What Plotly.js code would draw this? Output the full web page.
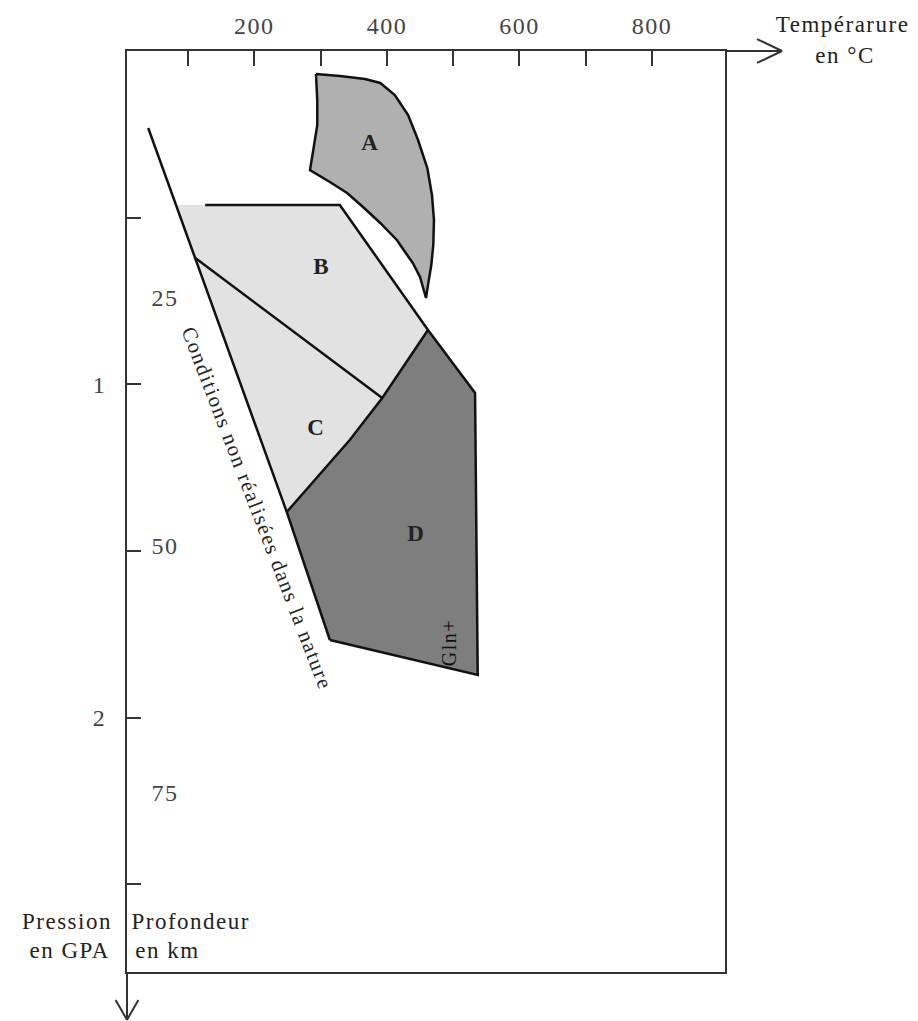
<!DOCTYPE html>
<html>
<head>
<meta charset="utf-8">
<script src="https://cdn.plot.ly/plotly-3.0.1.min.js"></script>
<style>
html,body{margin:0;padding:0;background:#fff}
.main-svg text{letter-spacing:1.5px}
</style>
</head>
<body>
<div id="chart" style="width:918px;height:1021px"></div>
<script>
// ---- axis ticks ----
const tempTicks = [100, 200, 300, 400, 500, 600, 700, 800];
const tempTickLabels = ['', '200', '', '400', '', '600', '', '800'];
const pressTicks = [0.5, 1, 1.5, 2, 2.5];
const pressTickLabels = ['', '1', '', '2', ''];
const depthKm = [25, 50, 75];
const kmPerGPa = 33.7;

// ---- geotherm limit (conditions not realised in nature) ----
const geothermT = [40, 111, 249, 314];
const geothermP = [0.231, 0.621, 1.383, 1.767];

// ---- domain A ----
const domainA_T = [293, 329, 367, 390, 412, 432, 447, 461, 468, 471, 470, 467, 462, 459,
                   450, 439, 415, 390, 364, 340, 314, 284, 289, 295, 295, 293];
const domainA_P = [0.069, 0.075, 0.084, 0.096, 0.132, 0.192, 0.267, 0.351, 0.432, 0.507, 0.582, 0.642, 0.702, 0.741,
                   0.678, 0.636, 0.567, 0.516, 0.468, 0.426, 0.393, 0.357, 0.297, 0.222, 0.147, 0.069];

// ---- domains B + C (same light fill) ----
const domainBC_T = [81, 329, 462, 393, 344, 295, 249, 81];
const domainBC_P = [0.462, 0.462, 0.837, 1.041, 1.167, 1.278, 1.383, 0.462];

// ---- domain D ----
const domainD_T = [462, 533, 537, 314, 249, 295, 344, 393, 462];
const domainD_P = [0.837, 1.026, 1.872, 1.767, 1.383, 1.278, 1.167, 1.041, 0.837];

// ---- boundaries ----
const outerT = [126, 329, 462, 533, 537, 314];
const outerP = [0.462, 0.462, 0.837, 1.026, 1.872, 1.767];
const limitBC_T = [111, 393];
const limitBC_P = [0.621, 1.041];
const limitCD_T = [462, 393, 344, 295, 249];
const limitCD_P = [0.837, 1.041, 1.167, 1.278, 1.383];

// ---- labels ----
const domainNames = ['A', 'B', 'C', 'D'];
const domainLabelT = [375, 302, 294, 445];
const domainLabelP = [0.273, 0.645, 1.128, 1.446];

const FONT = 'Liberation Serif, Times New Roman, serif';
const INK = '#111';

function poly(x, y, fill, lw) {
  return {x: x, y: y, type: 'scatter', mode: 'lines', fill: 'toself', fillcolor: fill,
    line: {color: INK, width: lw}, hoverinfo: 'skip', showlegend: false};
}
function line(x, y) {
  return {x: x, y: y, type: 'scatter', mode: 'lines',
    line: {color: INK, width: 2.5}, hoverinfo: 'skip', showlegend: false};
}

const data = [
  poly(domainBC_T, domainBC_P, '#e2e2e2', 0),
  poly(domainD_T, domainD_P, '#7e7e7e', 0),
  poly(domainA_T, domainA_P, '#b0b0b0', 2.5),
  line(geothermT, geothermP),
  line(outerT, outerP),
  line(limitBC_T, limitBC_P),
  line(limitCD_T, limitCD_P)
];

function txt(x, y, xref, yref, text, size, color, extra) {
  return Object.assign({x: x, y: y, xref: xref, yref: yref, text: text, showarrow: false,
    xanchor: 'center', yanchor: 'middle', font: {family: FONT, size: size, color: color}}, extra || {});
}

const annotations = [];
domainNames.forEach((n, i) => annotations.push(
  txt(domainLabelT[i], domainLabelP[i], 'x', 'y', '<b>' + n + '</b>', 23, '#222')));
annotations.push(txt(494, 1.776, 'x', 'y', 'Gln+', 20, '#111', {textangle: -90}));
annotations.push(txt(204, 1.371, 'x', 'y', 'Conditions non réalisées dans la nature', 21, '#222', {textangle: 69}));
depthKm.forEach(d => annotations.push(txt(0.0635, d / kmPerGPa, 'paper', 'y', String(d), 24, '#444')));
// axis titles
const py = p => (972 - p) / 921;
annotations.push(txt(1.196, py(25), 'paper', 'paper', 'Tempérarure', 23, '#222'));
annotations.push(txt(1.201, py(55), 'paper', 'paper', 'en °C', 23, '#222'));
annotations.push(txt(-0.032, py(921), 'paper', 'paper', 'Pression', 23, '#222', {xanchor: 'right'}));
annotations.push(txt(-0.032, py(950), 'paper', 'paper', 'en GPA', 23, '#222', {xanchor: 'right'}));
annotations.push(txt(0.016, py(921), 'paper', 'paper', 'Profondeur', 23, '#222', {xanchor: 'left'}));
annotations.push(txt(0.016, py(950), 'paper', 'paper', 'en km', 23, '#222', {xanchor: 'left'}));

const axisLine = {color: '#333', width: 2};
const shapes = [
  // temperature axis arrow
  {type: 'line', xref: 'paper', yref: 'paper', x0: 1, y0: 1, x1: 1.0953, y1: 1, line: axisLine},
  {type: 'line', xref: 'paper', yref: 'paper', x0: 1.0535, y0: 1.013, x1: 1.0953, y1: 1, line: axisLine},
  {type: 'line', xref: 'paper', yref: 'paper', x0: 1.0535, y0: 0.987, x1: 1.0953, y1: 1, line: axisLine},
  // pressure axis arrow
  {type: 'line', xref: 'paper', yref: 'paper', x0: 0, y0: 0, x1: 0, y1: -0.052, line: axisLine},
  {type: 'line', xref: 'paper', yref: 'paper', x0: -0.019, y0: -0.0304, x1: 0, y1: -0.052, line: axisLine},
  {type: 'line', xref: 'paper', yref: 'paper', x0: 0.019, y0: -0.0304, x1: 0, y1: -0.052, line: axisLine}
];

const layout = {
  width: 918, height: 1021,
  margin: {l: 127, r: 193, t: 51, b: 49},
  paper_bgcolor: '#fff', plot_bgcolor: '#fff',
  showlegend: false,
  xaxis: {
    range: [8, 910], side: 'top', showline: true, mirror: true, linecolor: '#333', linewidth: 2,
    ticks: 'inside', ticklen: 15, tickwidth: 2, tickcolor: '#333',
    tickvals: tempTicks, ticktext: tempTickLabels, ticklabelstandoff: 5,
    showgrid: false, zeroline: false, fixedrange: true,
    tickfont: {family: FONT, size: 24, color: '#444'}
  },
  yaxis: {
    range: [2.763, 0], showline: true, mirror: true, linecolor: '#333', linewidth: 2,
    ticks: 'inside', ticklen: 14, tickwidth: 2, tickcolor: '#333',
    tickvals: pressTicks, ticktext: pressTickLabels, ticklabelstandoff: 14,
    showgrid: false, zeroline: false, fixedrange: true,
    tickfont: {family: FONT, size: 24, color: '#444'}
  },
  annotations: annotations,
  shapes: shapes
};

Plotly.newPlot('chart', data, layout, {displayModeBar: false, staticPlot: true});
</script>
</body>
</html>
